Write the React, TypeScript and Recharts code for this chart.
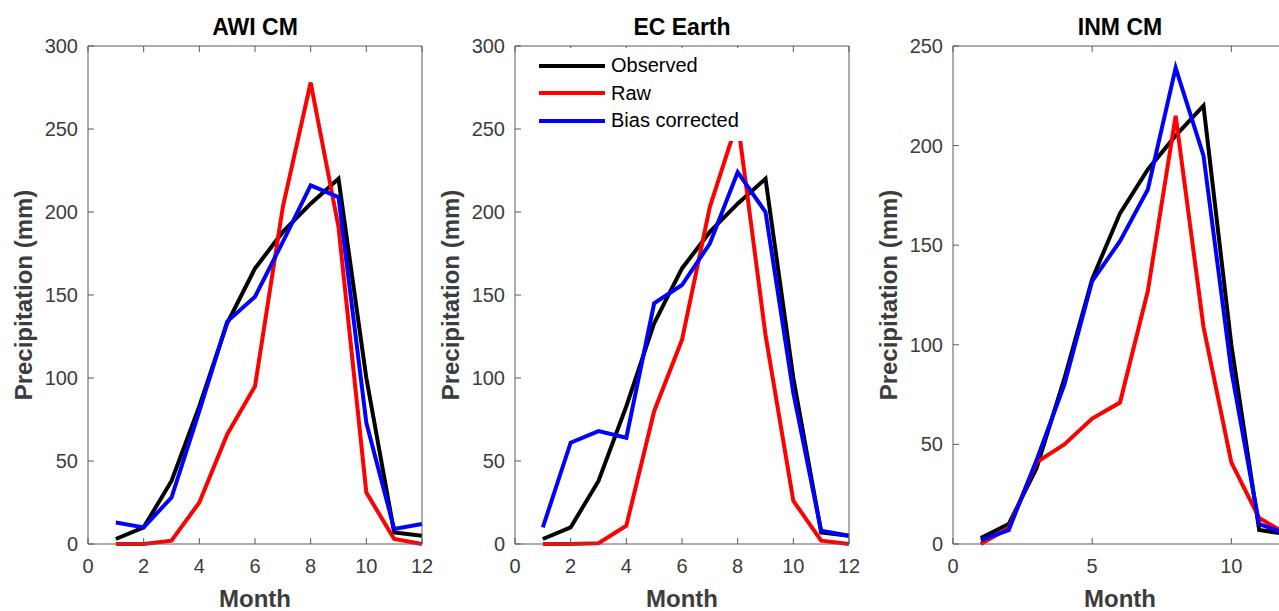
import { LineChart, Line, XAxis, YAxis, Legend } from "recharts";

const months = [1, 2, 3, 4, 5, 6, 7, 8, 9, 10, 11, 12];
const observed = [3, 10, 38, 83, 133, 166, 188, 205, 220, 100, 7, 5];

const awiRaw = [0, 0, 2, 25, 66, 95, 203, 278, 191, 31, 3, 0];
const awiBias = [13, 10, 28, 80, 134, 149, 182, 216, 209, 73, 9, 12];

const ecRaw = [0, 0, 0.5, 11, 80, 123, 203, 255, 126, 26, 2, 0];
const ecBias = [10, 61, 68, 64, 145, 156, 181, 224, 200, 91, 8, 5];

const inmRaw = [0, 8, 41, 50, 63, 71, 127, 215, 109, 41, 13, 5];
const inmBias = [2, 7, 42, 80, 132, 152, 178, 239, 195, 87, 10, 5];

const seriesNames = ["Observed", "Raw", "Bias corrected"];
const seriesColors = ["#000000", "#ff0000", "#0000ff"];

const AXIS = "#5a5a5a";
const TEXT = "#3c3c3c";
const FONT = "'Liberation Sans', Arial, Helvetica, sans-serif";
const W = 445;
const H = 611;
const TOP = 46;
const BOTTOM = 544;
const AX = 20; // space each axis takes, taken back out of the margins

function rows(raw: number[], bias: number[]) {
  return months.map((m, i) => ({ month: m, observed: observed[i], raw: raw[i], bias: bias[i] }));
}

function BottomTick({ x, y, payload }: any) {
  return (
    <g>
      <line x1={x} y1={y} x2={x} y2={y - 6} stroke={AXIS} />
      <text x={x} y={y + 29} textAnchor="middle" fontSize={20} fill={TEXT} fontFamily={FONT}>
        {payload.value}
      </text>
    </g>
  );
}

function TopTick({ x, y }: any) {
  return <line x1={x} y1={y} x2={x} y2={y + 6} stroke={AXIS} />;
}

function LeftTick({ x, y, payload }: any) {
  return (
    <g>
      <line x1={x} y1={y} x2={x + 6} y2={y} stroke={AXIS} />
      <text x={x - 10} y={y + 7} textAnchor="end" fontSize={20} fill={TEXT} fontFamily={FONT}>
        {payload.value}
      </text>
    </g>
  );
}

function RightTick({ x, y }: any) {
  return <line x1={x} y1={y} x2={x - 6} y2={y} stroke={AXIS} />;
}

function LegendBox() {
  return (
    <div style={{ background: "#fff", padding: "4px 8px 6px 4px", fontFamily: FONT }}>
      {seriesNames.map((n, i) => (
        <div key={n} style={{ display: "flex", alignItems: "center", height: 27.5 }}>
          <svg width={70} height={10}>
            <line x1={1} y1={5} x2={67} y2={5} stroke={seriesColors[i]} strokeWidth={4} />
          </svg>
          <span style={{ fontSize: 20, color: "#000", marginLeft: 3 }}>{n}</span>
        </div>
      ))}
    </div>
  );
}

function Panel({
  title,
  raw,
  bias,
  left,
  plotLeft,
  yMax,
  yTicks,
  xTicks,
  legend,
}: {
  title: string;
  raw: number[];
  bias: number[];
  left: number;
  plotLeft: number;
  yMax: number;
  yTicks: number[];
  xTicks: number[];
  legend?: boolean;
}) {
  const plotRight = plotLeft + 334;
  const cx = (plotLeft + plotRight) / 2;
  const cy = (TOP + BOTTOM) / 2;
  const yLabelX = plotLeft - 65;
  return (
    <div style={{ position: "absolute", left, top: 0, width: W, height: H }}>
      <LineChart
        width={W}
        height={H}
        data={rows(raw, bias)}
        margin={{
          top: TOP - AX,
          bottom: H - BOTTOM - AX,
          left: plotLeft - AX,
          right: W - plotRight - AX,
        }}
      >
        <XAxis
          dataKey="month"
          type="number"
          domain={[0, 12]}
          ticks={xTicks}
          interval={0}
          height={AX}
          tickSize={0}
          tickMargin={0}
          tickLine={false}
          axisLine={{ stroke: AXIS }}
          tick={<BottomTick />}
          label={() => (
            <text x={cx} y={607} textAnchor="middle" fontSize={24} fontWeight="bold" fill={TEXT} fontFamily={FONT}>
              Month
            </text>
          )}
        />
        <XAxis
          xAxisId="top"
          orientation="top"
          dataKey="month"
          type="number"
          domain={[0, 12]}
          ticks={xTicks}
          interval={0}
          height={AX}
          tickSize={0}
          tickMargin={0}
          tickLine={false}
          axisLine={{ stroke: AXIS }}
          tick={<TopTick />}
          label={() => (
            <text x={cx} y={35} textAnchor="middle" fontSize={23} fontWeight="bold" fill="#000" fontFamily={FONT}>
              {title}
            </text>
          )}
        />
        <YAxis
          type="number"
          domain={[0, yMax]}
          ticks={yTicks}
          interval={0}
          width={AX}
          tickSize={0}
          tickMargin={0}
          tickLine={false}
          axisLine={{ stroke: AXIS }}
          tick={<LeftTick />}
          label={() => (
            <text
              x={yLabelX}
              y={cy}
              transform={`rotate(-90 ${yLabelX} ${cy})`}
              textAnchor="middle"
              dominantBaseline="central"
              fontSize={24}
              fontWeight="bold"
              fill={TEXT}
              fontFamily={FONT}
            >
              Precipitation (mm)
            </text>
          )}
        />
        <YAxis
          yAxisId="right"
          orientation="right"
          type="number"
          domain={[0, yMax]}
          ticks={yTicks}
          interval={0}
          width={AX}
          tickSize={0}
          tickMargin={0}
          tickLine={false}
          axisLine={{ stroke: AXIS }}
          tick={<RightTick />}
        />
        {legend && (
          <Legend
            layout="vertical"
            align="center"
            verticalAlign="middle"
            content={<LegendBox />}
            wrapperStyle={{ top: 48, left: 104, width: "auto" }}
          />
        )}
        <Line type="linear" dataKey="observed" stroke={seriesColors[0]} strokeWidth={4} dot={false} isAnimationActive={false} />
        <Line type="linear" dataKey="raw" stroke={seriesColors[1]} strokeWidth={4} dot={false} isAnimationActive={false} />
        <Line type="linear" dataKey="bias" stroke={seriesColors[2]} strokeWidth={4} dot={false} isAnimationActive={false} />
      </LineChart>
    </div>
  );
}

export default function App() {
  return (
    <div
      style={{
        position: "absolute",
        left: 0,
        top: 0,
        width: 1279,
        height: 611,
        overflow: "hidden",
        background: "#fff",
      }}
    >
      <Panel
        title="AWI CM"
        raw={awiRaw}
        bias={awiBias}
        left={0}
        plotLeft={88}
        yMax={300}
        yTicks={[0, 50, 100, 150, 200, 250, 300]}
        xTicks={[0, 2, 4, 6, 8, 10, 12]}
      />
      <Panel
        title="EC Earth"
        raw={ecRaw}
        bias={ecBias}
        left={430}
        plotLeft={85}
        yMax={300}
        yTicks={[0, 50, 100, 150, 200, 250, 300]}
        xTicks={[0, 2, 4, 6, 8, 10, 12]}
        legend
      />
      <Panel
        title="INM CM"
        raw={inmRaw}
        bias={inmBias}
        left={860}
        plotLeft={93}
        yMax={250}
        yTicks={[0, 50, 100, 150, 200, 250]}
        xTicks={[0, 5, 10]}
      />
    </div>
  );
}
